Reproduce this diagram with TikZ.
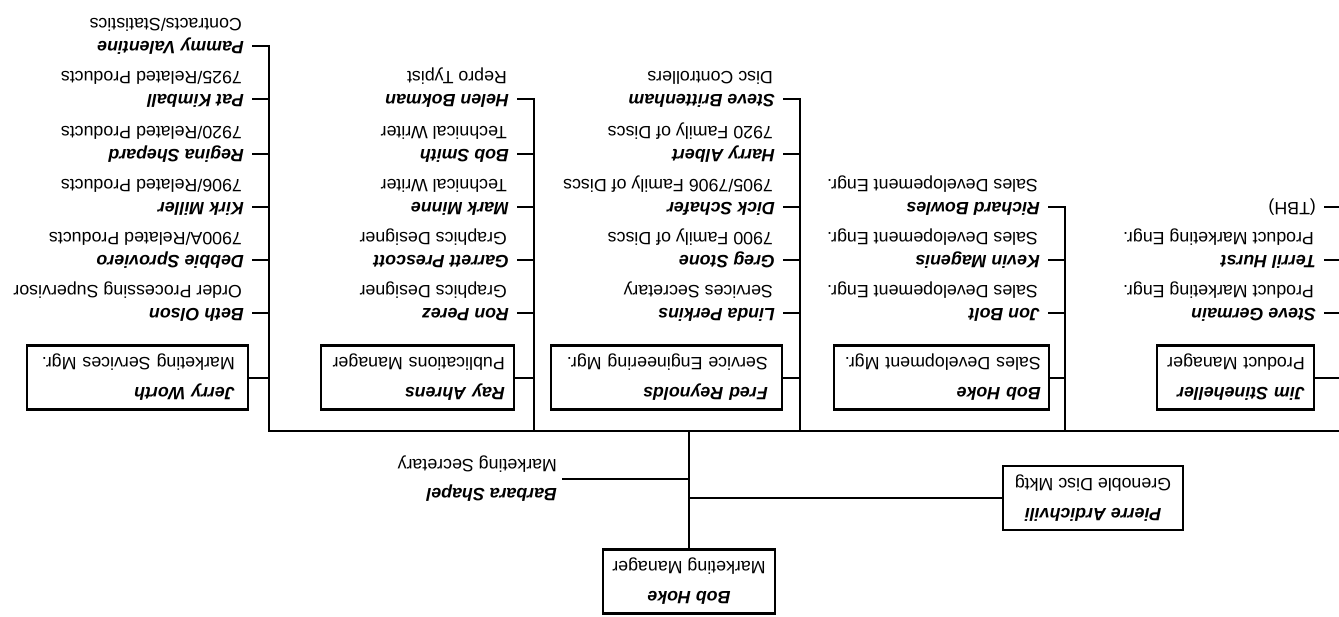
\documentclass[tikz,border=0pt]{standalone}
\usepackage{fontspec}
\setmainfont{Liberation Sans}
\usetikzlibrary{positioning}

\begin{document}
\begin{tikzpicture}[x=1pt, y=1pt, rotate=180, transform shape, line width=2pt, line cap=rect,
    every node/.style={font=\fontsize{17.8}{21}\selectfont},
    mgr/.style={draw, line width=2.4pt, minimum height=64pt, align=left, font=\fontsize{17.8}{30}\selectfont},
    who/.style={anchor=west, inner xsep=8pt, inner ysep=0pt, text height=13pt, text depth=4pt, font=\fontsize{17.8}{21}\selectfont\bfseries\itshape},
    job/.style={inner xsep=8pt, inner ysep=0pt, text height=13pt, text depth=4pt}]
  \useasboundingbox (0,0) rectangle (1339,616);

  % head of the department
  \node[mgr, align=center, minimum width=172pt] (hokeM) at (650,581.5) {\textbf{\textit{Bob Hoke}}\\Marketing Manager};
  \node[mgr, align=center, minimum width=180pt] (ardichvili) at (246,498) {\textbf{\textit{Pierre Ardichvili}}\\Grenoble Disc Mktg};
  \node[anchor=west, align=left, inner xsep=5pt, font=\fontsize{17.8}{29}\selectfont] (shapel) at (776,479) {\textbf{\textit{Barbara Shapel}}\\Marketing Secretary};

  % bus
  \coordinate (j1) at (1070,431);
  \coordinate (j2) at (805,431);
  \coordinate (j3) at (539,431);
  \coordinate (j4) at (274,431);
  \coordinate (j5) at (-2,431);

  % managers
  \node[mgr, anchor=west, text width=195pt, inner xsep=13pt] (worth) at (1090,377.5) {\textbf{\textit{Jerry Worth}}\\Marketing Services Mgr.};
  \node[mgr, anchor=west, text width=175pt, inner xsep=9pt] (ahrens) at (824,377.5) {\textbf{\textit{Ray Ahrens}}\\Publications Manager};
  \node[mgr, anchor=west, text width=203pt, inner xsep=14pt] (reynolds) at (556,377.5) {\textbf{\textit{Fred Reynolds}}\\Service Engineering Mgr.};
  \node[mgr, anchor=west, text width=199pt, inner xsep=8pt] (hokeS) at (289,377.5) {\textbf{\textit{Bob Hoke}}\\Sales Development Mgr.};
  \node[mgr, anchor=west, text width=139pt, inner xsep=9pt] (stineheller) at (24,377.5) {\textbf{\textit{Jim Stineheller}}\\Product Manager};

  % marketing services
  \node[who] (olson) at (1086,313) {Beth Olson};
  \node[job, below right=4pt and 2pt of olson.south west] (olsonT) {Order Processing Supervisor};
  \node[who] (sproviero) at (1086,260) {Debbie Sproviero};
  \node[job, below right=4pt and 2pt of sproviero.south west] (sprovieroT) {7900A/Related Products};
  \node[who] (miller) at (1086,207) {Kirk Miller};
  \node[job, below right=4pt and 2pt of miller.south west] (millerT) {7906/Related Products};
  \node[who] (shepard) at (1086,154) {Regina Shepard};
  \node[job, below right=4pt and 2pt of shepard.south west] (shepardT) {7920/Related Products};
  \node[who] (kimball) at (1086,99) {Pat Kimball};
  \node[job, below right=4pt and 2pt of kimball.south west] (kimballT) {7925/Related Products};
  \node[who] (valentine) at (1086,46) {Pammy Valentine};
  \node[job, below right=4pt and 2pt of valentine.south west] (valentineT) {Contracts/Statistics};

  % publications
  \node[who] (perez) at (821,313) {Ron Perez};
  \node[job, below right=4pt and 2pt of perez.south west] (perezT) {Graphics Designer};
  \node[who] (prescott) at (821,260) {Garrett Prescott};
  \node[job, below right=4pt and 2pt of prescott.south west] (prescottT) {Graphics Designer};
  \node[who] (minne) at (821,207) {Mark Minne};
  \node[job, below right=4pt and 2pt of minne.south west] (minneT) {Technical Writer};
  \node[who] (smith) at (821,154) {Bob Smith};
  \node[job, below right=4pt and 2pt of smith.south west] (smithT) {Technical Writer};
  \node[who] (bokman) at (821,99) {Helen Bokman};
  \node[job, below right=4pt and 2pt of bokman.south west] (bokmanT) {Repro Typist};

  % service engineering
  \node[who] (perkins) at (555,313) {Linda Perkins};
  \node[job, below right=4pt and 2pt of perkins.south west] (perkinsT) {Services Secretary};
  \node[who] (stone) at (555,260) {Greg Stone};
  \node[job, below right=4pt and 2pt of stone.south west] (stoneT) {7900 Family of Discs};
  \node[who] (schafer) at (555,207) {Dick Schafer};
  \node[job, below right=4pt and 2pt of schafer.south west] (schaferT) {7905/7906 Family of Discs};
  \node[who] (albert) at (555,154) {Harry Albert};
  \node[job, below right=4pt and 2pt of albert.south west] (albertT) {7920 Family of Discs};
  \node[who] (brittenham) at (555,99) {Steve Brittenham};
  \node[job, below right=4pt and 2pt of brittenham.south west] (brittenhamT) {Disc Controllers};

  % sales development
  \node[who] (bolt) at (290,313) {Jon Bolt};
  \node[job, below right=4pt and 2pt of bolt.south west] (boltT) {Sales Developement Engr.};
  \node[who] (magenis) at (290,260) {Kevin Magenis};
  \node[job, below right=4pt and 2pt of magenis.south west] (magenisT) {Sales Developement Engr.};
  \node[who] (bowles) at (290,207) {Richard Bowles};
  \node[job, below right=4pt and 2pt of bowles.south west] (bowlesT) {Sales Developement Engr.};

  % product marketing
  \node[who] (germain) at (14,313) {Steve Germain};
  \node[job, below right=4pt and 2pt of germain.south west] (germainT) {Product Marketing Engr.};
  \node[who] (hurst) at (14,260) {Terril Hurst};
  \node[job, below right=4pt and 2pt of hurst.south west] (hurstT) {Product Marketing Engr.};
  \node[job, anchor=west] (tbh) at (14,207) {(TBH)};

  \draw (hokeM) -- (hokeM |- j1);
  \draw (shapel.west) -- (shapel.west -| hokeM);
  \draw (ardichvili) -- (ardichvili -| hokeM);
  \draw (j5) -- (j1);

  \draw (worth) -| (j1);
  \draw (olson.west) -| (j1);
  \draw (sproviero.west) -| (j1);
  \draw (miller.west) -| (j1);
  \draw (shepard.west) -| (j1);
  \draw (kimball.west) -| (j1);
  \draw (valentine.west) -| (j1);

  \draw (ahrens) -| (j2);
  \draw (perez.west) -| (j2);
  \draw (prescott.west) -| (j2);
  \draw (minne.west) -| (j2);
  \draw (smith.west) -| (j2);
  \draw (bokman.west) -| (j2);

  \draw (reynolds) -| (j3);
  \draw (perkins.west) -| (j3);
  \draw (stone.west) -| (j3);
  \draw (schafer.west) -| (j3);
  \draw (albert.west) -| (j3);
  \draw (brittenham.west) -| (j3);

  \draw (hokeS) -| (j4);
  \draw (bolt.west) -| (j4);
  \draw (magenis.west) -| (j4);
  \draw (bowles.west) -| (j4);

  \draw (stineheller) -| (j5);
  \draw (germain.west) -| (j5);
  \draw (hurst.west) -| (j5);
  \draw (tbh.west) -| (j5);
\end{tikzpicture}
\end{document}
